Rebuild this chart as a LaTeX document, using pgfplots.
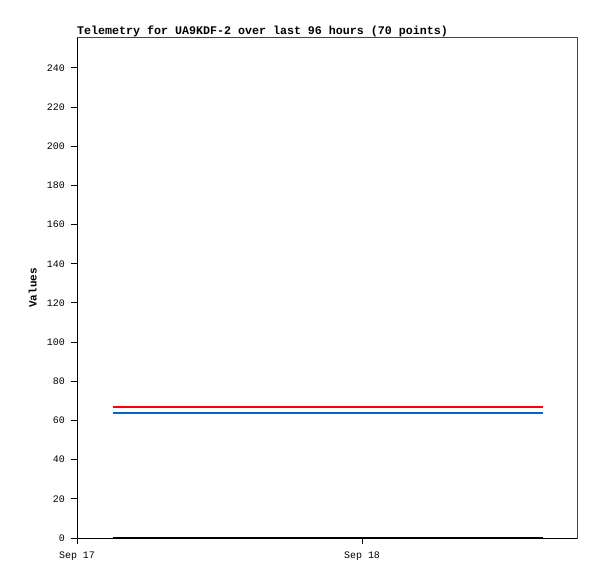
\documentclass[border=0pt]{standalone}
\usepackage{fontspec}
\setmainfont{Liberation Mono}
\usepackage{pgfplots}
\pgfplotsset{compat=1.18}
\definecolor{tmred}{RGB}{255,0,0}
\definecolor{tmblue}{RGB}{0,102,204}
\definecolor{tmframe}{RGB}{70,70,70}
\begin{document}
\begin{tikzpicture}[x=1bp,y=1bp]
% canvas 597 x 579 px, axis box 500 x 500 at (77,38)
\path[use as bounding box] (-77,-41) rectangle (520,538);
\begin{axis}[
  name=tm, at={(0,0)}, anchor=south west,
  scale only axis, width=500bp, height=500bp,
  xmin=0, xmax=42.1, ymin=0, ymax=255.3,
  xtick={0,24}, xticklabels={Sep 17,Sep 18},
  ytick={0,20,...,240},
  tick align=outside, tick pos=left, major tick length=6bp,
  tick style={black, line width=1bp},
  axis line style={tmframe, line width=1bp},
  font=\fontsize{10}{11}\selectfont,
  /pgf/number format/assume math mode=true,
  yticklabel style={inner sep=0pt, xshift=-6bp},
  xticklabel style={inner sep=0pt, yshift=-8bp},
  ylabel={\fontsize{11}{12}\selectfont\bfseries Values},
  ylabel style={at={(axis description cs:-0.08,0.5)}, anchor=south, inner sep=0pt},
  title={\fontsize{11.7}{13}\selectfont\bfseries Telemetry for UA9KDF-2 over last 96 hours (70 points)},
  title style={at={(axis description cs:0,1)}, anchor=base west, inner sep=0pt, yshift=-2bp},
]
% red series
\addplot[tmred, line width=2bp] coordinates {(3.0,67)(12.0,67)(21.0,67)(30.0,67)(39.2,67)};
% blue series
\addplot[tmblue, line width=2bp] coordinates {(3.0,64)(12.0,64)(21.0,64)(30.0,64)(39.2,64)};
% black series
\addplot[black, line width=2bp] coordinates {(3.0,0)(12.0,0)(21.0,0)(30.0,0)(39.2,0)};
\draw[black, line width=1bp] (rel axis cs:0,1) -- (rel axis cs:0,0) -- (rel axis cs:1,0);
\end{axis}
\end{tikzpicture}
\end{document}
